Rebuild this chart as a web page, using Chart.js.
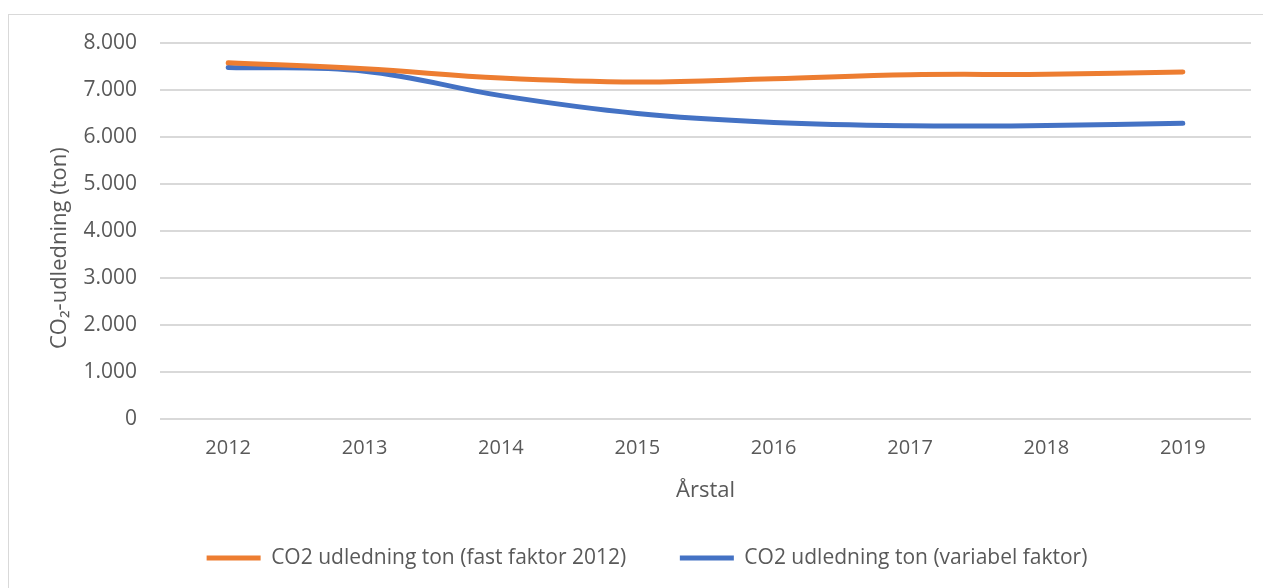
<!DOCTYPE html>
<html lang="da">
<head>
<meta charset="UTF-8">
<title>CO2-udledning</title>
<style>
  html, body { margin: 0; padding: 0; background: #fff; overflow: hidden; }
  #frame { position: absolute; left: 8px; top: 14px; width: 1320px; height: 640px; border: 1px solid #d9d9d9; }
  #wrap { position: absolute; left: 0; top: 0; width: 1300px; height: 588px; }
</style>
</head>
<body>
<div id="frame"></div>
<div id="wrap"><canvas id="line-chart" width="1300" height="588"></canvas></div>

<script src="https://cdn.jsdelivr.net/npm/chart.js@4.4.1/dist/chart.umd.min.js"></script>
<script>
// data
var years = ['2012', '2013', '2014', '2015', '2016', '2017', '2018', '2019'];
var fastFaktor = [7580, 7450, 7255, 7170, 7240, 7325, 7335, 7385];
var variabelFaktor = [7480, 7400, 6880, 6500, 6310, 6240, 6245, 6290];
var labelFast = 'CO2 udledning ton (fast faktor 2012)';
var labelVariabel = 'CO2 udledning ton (variabel faktor)';

var textColor = '#595959';
var gridColor = '#d9d9d9';
var font = 'Open Sans';

function tusind(v) {
  return String(v).replace(/\B(?=(\d{3})+(?!\d))/g, '.');
}

new Chart(document.getElementById('line-chart'), {
  type: 'line',
  data: {
    labels: years,
    datasets: [{
      label: labelFast,
      data: fastFaktor,
      borderColor: '#ed7d31',
      backgroundColor: '#ed7d31',
      borderWidth: 5,
      borderCapStyle: 'round',
      tension: 0.4,
      pointRadius: 0,
      fill: false
    }, {
      label: labelVariabel,
      data: variabelFaktor,
      borderColor: '#4472c4',
      backgroundColor: '#4472c4',
      borderWidth: 5,
      borderCapStyle: 'round',
      tension: 0.4,
      pointRadius: 0,
      fill: false
    }]
  },
  options: {
    responsive: false,
    animation: false,
    devicePixelRatio: 1,
    layout: { padding: { left: 8, top: 43, right: 14, bottom: 9.5 } },
    plugins: {
      tooltip: { enabled: false },
      legend: {
        position: 'bottom',
        labels: {
          color: textColor,
          font: { family: font, size: 21 },
          boxWidth: 54,
          boxHeight: 5,
          padding: 10,
          generateLabels: function (chart) {
            var items = Chart.defaults.plugins.legend.labels.generateLabels(chart);
            // wider gap between the two entries, as in the original
            items[0].text = items[0].text + '        ';
            items.forEach(function (it) { it.lineWidth = 0; });
            return items;
          }
        }
      }
    },
    scales: {
      x: {
        offset: true,
        grid: { display: false },
        border: { display: false },
        ticks: { color: textColor, font: { family: font, size: 20 }, padding: 9 },
        title: {
          display: true,
          text: 'Årstal',
          color: textColor,
          font: { family: font, size: 22 },
          padding: { top: 0, bottom: 34 }
        },
        afterFit: function (s) { s.height = 118.5; }
      },
      y: {
        min: 0,
        max: 8000,
        grid: { color: gridColor, lineWidth: 2, drawTicks: false },
        border: { display: false },
        ticks: {
          stepSize: 1000,
          color: textColor,
          font: { family: font, size: 21 },
          padding: 23,
          callback: function (v) { return tusind(v); }
        },
        title: {
          display: true,
          text: 'CO₂-udledning (ton)      ',
          color: textColor,
          font: { family: font, size: 22 },
          padding: { top: 39, bottom: 0 }
        },
        afterFit: function (s) { s.width = 152; }
      },
      yRight: {
        position: 'right',
        display: true,
        grid: { display: false },
        border: { display: false },
        ticks: { display: false },
        afterFit: function (s) { s.width = 35; }
      }
    }
  }
});
</script>
</body>
</html>
